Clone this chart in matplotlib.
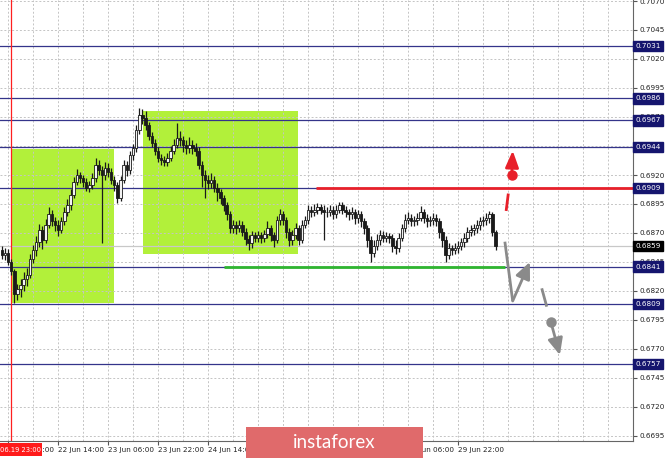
import matplotlib
matplotlib.use('Agg')
import matplotlib.pyplot as plt
from matplotlib.patches import Rectangle
from matplotlib.transforms import blended_transform_factory

# ---------------- data ----------------
first_bar = -2
opens = [
    0.6855, 0.6851, 0.6853, 0.6845, 0.6837, 0.6817, 0.6822, 0.6825, 0.6830, 0.6834,
    0.6848, 0.6855, 0.6862, 0.6873, 0.6864, 0.6877, 0.6886, 0.6880, 0.6877, 0.6873,
    0.6880, 0.6888, 0.6894, 0.6903, 0.6914, 0.6920, 0.6917, 0.6914, 0.6909, 0.6911,
    0.6917, 0.6929, 0.6924, 0.6920, 0.6926, 0.6923, 0.6916, 0.6911, 0.6900, 0.6916,
    0.6929, 0.6924, 0.6937, 0.6943, 0.6959, 0.6972, 0.6969, 0.6963, 0.6954, 0.6948,
    0.6941, 0.6935, 0.6933, 0.6931, 0.6935, 0.6941, 0.6946, 0.6952, 0.6950, 0.6946,
    0.6943, 0.6946, 0.6943, 0.6941, 0.6929, 0.6920, 0.6916, 0.6913, 0.6916, 0.6909,
    0.6905, 0.6900, 0.6894, 0.6886, 0.6874, 0.6877, 0.6874, 0.6877, 0.6871, 0.6865,
    0.6861, 0.6868, 0.6866, 0.6868, 0.6866, 0.6869, 0.6874, 0.6868, 0.6864, 0.6881,
    0.6886, 0.6881, 0.6871, 0.6864, 0.6868, 0.6874, 0.6864, 0.6877, 0.6881, 0.6890,
    0.6888, 0.6890, 0.6892, 0.6890, 0.6888, 0.6888, 0.6890, 0.6886, 0.6890, 0.6894,
    0.6890, 0.6888, 0.6886, 0.6888, 0.6883, 0.6886, 0.6880, 0.6874, 0.6864, 0.6853,
    0.6859, 0.6864, 0.6868, 0.6866, 0.6867, 0.6866, 0.6859, 0.6857, 0.6866, 0.6874,
    0.6881, 0.6883, 0.6880, 0.6881, 0.6883, 0.6888, 0.6883, 0.6880, 0.6881, 0.6883,
    0.6880, 0.6871, 0.6864, 0.6851, 0.6857, 0.6855, 0.6857, 0.6859, 0.6862, 0.6866,
    0.6871, 0.6873, 0.6874, 0.6877, 0.6880, 0.6881, 0.6883, 0.6886, 0.6871,
]
highs = [
    0.6859, 0.6857, 0.6856, 0.6848, 0.6839, 0.6826, 0.6830, 0.6836, 0.6840, 0.6852,
    0.6860, 0.6867, 0.6878, 0.6876, 0.6882, 0.6892, 0.6890, 0.6884, 0.6881, 0.6884,
    0.6892, 0.6899, 0.6908, 0.6918, 0.6925, 0.6923, 0.6920, 0.6917, 0.6915, 0.6922,
    0.6935, 0.6933, 0.6928, 0.6931, 0.6930, 0.6926, 0.6919, 0.6914, 0.6919, 0.6933,
    0.6932, 0.6941, 0.6947, 0.6963, 0.6978, 0.6977, 0.6975, 0.6966, 0.6957, 0.6951,
    0.6944, 0.6938, 0.6936, 0.6939, 0.6945, 0.6951, 0.6965, 0.6958, 0.6954, 0.6950,
    0.6953, 0.6950, 0.6948, 0.6944, 0.6932, 0.6924, 0.6920, 0.6922, 0.6919, 0.6913,
    0.6908, 0.6903, 0.6897, 0.6889, 0.6881, 0.6880, 0.6881, 0.6880, 0.6874, 0.6868,
    0.6872, 0.6871, 0.6872, 0.6871, 0.6873, 0.6880, 0.6877, 0.6871, 0.6885, 0.6891,
    0.6889, 0.6884, 0.6874, 0.6873, 0.6879, 0.6877, 0.6881, 0.6885, 0.6894, 0.6893,
    0.6895, 0.6896, 0.6895, 0.6894, 0.6892, 0.6894, 0.6893, 0.6894, 0.6897, 0.6897,
    0.6893, 0.6891, 0.6892, 0.6891, 0.6890, 0.6889, 0.6883, 0.6877, 0.6867, 0.6864,
    0.6869, 0.6873, 0.6872, 0.6871, 0.6870, 0.6869, 0.6864, 0.6870, 0.6878, 0.6886,
    0.6888, 0.6886, 0.6885, 0.6887, 0.6893, 0.6891, 0.6886, 0.6885, 0.6887, 0.6886,
    0.6883, 0.6874, 0.6867, 0.6861, 0.6860, 0.6861, 0.6863, 0.6866, 0.6870, 0.6875,
    0.6877, 0.6878, 0.6881, 0.6884, 0.6885, 0.6887, 0.6889, 0.6888, 0.6873,
]
lows = [
    0.6848, 0.6847, 0.6842, 0.6834, 0.6810, 0.6812, 0.6815, 0.6820, 0.6824, 0.6831,
    0.6844, 0.6850, 0.6858, 0.6856, 0.6861, 0.6874, 0.6876, 0.6872, 0.6867, 0.6870,
    0.6877, 0.6885, 0.6890, 0.6900, 0.6911, 0.6913, 0.6910, 0.6906, 0.6905, 0.6908,
    0.6914, 0.6920, 0.6861, 0.6916, 0.6918, 0.6912, 0.6906, 0.6896, 0.6898, 0.6913,
    0.6919, 0.6921, 0.6933, 0.6940, 0.6955, 0.6964, 0.6959, 0.6950, 0.6944, 0.6937,
    0.6931, 0.6929, 0.6928, 0.6928, 0.6932, 0.6938, 0.6943, 0.6945, 0.6940, 0.6938,
    0.6939, 0.6938, 0.6936, 0.6925, 0.6910, 0.6900, 0.6908, 0.6909, 0.6905, 0.6898,
    0.6895, 0.6889, 0.6881, 0.6870, 0.6870, 0.6869, 0.6871, 0.6867, 0.6860, 0.6855,
    0.6857, 0.6862, 0.6862, 0.6861, 0.6862, 0.6866, 0.6863, 0.6858, 0.6861, 0.6877,
    0.6877, 0.6866, 0.6859, 0.6860, 0.6865, 0.6860, 0.6861, 0.6874, 0.6878, 0.6884,
    0.6885, 0.6886, 0.6886, 0.6864, 0.6884, 0.6885, 0.6882, 0.6883, 0.6887, 0.6886,
    0.6884, 0.6881, 0.6882, 0.6878, 0.6879, 0.6875, 0.6869, 0.6858, 0.6845, 0.6849,
    0.6855, 0.6860, 0.6862, 0.6862, 0.6861, 0.6854, 0.6852, 0.6854, 0.6863, 0.6871,
    0.6878, 0.6876, 0.6876, 0.6877, 0.6880, 0.6879, 0.6875, 0.6876, 0.6877, 0.6876,
    0.6866, 0.6858, 0.6845, 0.6848, 0.6851, 0.6852, 0.6853, 0.6855, 0.6858, 0.6862,
    0.6867, 0.6868, 0.6870, 0.6873, 0.6876, 0.6877, 0.6879, 0.6867, 0.6855,
]
closes = [
    0.6851, 0.6853, 0.6845, 0.6837, 0.6817, 0.6822, 0.6825, 0.6830, 0.6834, 0.6848,
    0.6855, 0.6862, 0.6873, 0.6864, 0.6877, 0.6886, 0.6880, 0.6877, 0.6873, 0.6880,
    0.6888, 0.6894, 0.6903, 0.6914, 0.6920, 0.6917, 0.6914, 0.6909, 0.6911, 0.6917,
    0.6929, 0.6924, 0.6920, 0.6926, 0.6923, 0.6916, 0.6911, 0.6900, 0.6916, 0.6929,
    0.6924, 0.6937, 0.6943, 0.6959, 0.6972, 0.6969, 0.6963, 0.6954, 0.6948, 0.6941,
    0.6935, 0.6933, 0.6931, 0.6935, 0.6941, 0.6946, 0.6952, 0.6950, 0.6946, 0.6943,
    0.6946, 0.6943, 0.6941, 0.6929, 0.6920, 0.6916, 0.6913, 0.6916, 0.6909, 0.6905,
    0.6900, 0.6894, 0.6886, 0.6874, 0.6877, 0.6874, 0.6877, 0.6871, 0.6865, 0.6861,
    0.6868, 0.6866, 0.6868, 0.6866, 0.6869, 0.6874, 0.6868, 0.6864, 0.6881, 0.6886,
    0.6881, 0.6871, 0.6864, 0.6868, 0.6874, 0.6864, 0.6877, 0.6881, 0.6890, 0.6888,
    0.6890, 0.6892, 0.6890, 0.6888, 0.6888, 0.6890, 0.6886, 0.6890, 0.6894, 0.6890,
    0.6888, 0.6886, 0.6888, 0.6883, 0.6886, 0.6880, 0.6874, 0.6864, 0.6853, 0.6859,
    0.6864, 0.6868, 0.6866, 0.6867, 0.6866, 0.6859, 0.6857, 0.6866, 0.6874, 0.6881,
    0.6883, 0.6880, 0.6881, 0.6883, 0.6888, 0.6883, 0.6880, 0.6881, 0.6883, 0.6880,
    0.6871, 0.6864, 0.6851, 0.6857, 0.6855, 0.6857, 0.6859, 0.6862, 0.6866, 0.6871,
    0.6873, 0.6874, 0.6877, 0.6880, 0.6881, 0.6883, 0.6886, 0.6871, 0.6859,
]

price_ticks = [0.6695, 0.6720, 0.6745, 0.6770, 0.6795, 0.6820, 0.6845, 0.6870,
               0.6895, 0.6920, 0.6945, 0.6970, 0.6995, 0.7020, 0.7045, 0.7070]
level_prices = [0.7031, 0.6986, 0.6967, 0.6944, 0.6909, 0.6841, 0.6809, 0.6757]
current_price = 0.6859

time_label_bars = [0, 16, 32, 48, 64, 80, 96, 112, 128, 144]
time_labels = ['19 Jun 22:00', '22 Jun 14:00', '23 Jun 06:00', '23 Jun 22:00',
               '24 Jun 14:00', '25 Jun 06:00', '25 Jun 22:00', '26 Jun 14:00',
               '29 Jun 06:00', '29 Jun 22:00']
grid_bars = list(range(0, 201, 8))
marker_bar = 1
marker_label = '06.19 23:00'

# zones: (bar_start, bar_end, price_low, price_high)
zone_a = (1.1, 33.9, 0.6810, 0.6942)
zone_b = (43.3, 92.7, 0.6852, 0.6975)
resist_seg = (98.6, 200.0, 0.6909)
support_seg = (69.1, 159.0, 0.6841)

# forecast paths (bar, price)
red_dash = ([159.4, 160.1], [0.6889, 0.6904])
red_dot = (161.2, 0.6920)
red_tip = (161.5, 0.6941)
gray_path = ([159.0, 161.5], [0.68625, 0.68114])
gray_tip1 = (167.0, 0.6845)
gray_dash = ([170.8, 172.4], [0.68223, 0.68065])
gray_dot = (173.7, 0.67935)
gray_tip2 = (176.6, 0.67648)

# ---------------- figure ----------------
W, H = 665, 458
fig = plt.figure(figsize=(W / 100, H / 100), dpi=100, facecolor='white')
ax = fig.add_axes([0, 17 / H, 633 / W, 441 / H])
ax.set_facecolor('white')
ax.set_xlim(-2.56, 200)
ax.set_ylim(0.6695 - 5 / 11600, 0.6695 + 436 / 11600)

# zones
for (b0, b1, p0, p1) in (zone_a, zone_b):
    ax.add_patch(Rectangle((b0, p0), b1 - b0, p1 - p0, facecolor='#b2f03a',
                           edgecolor='none', zorder=1))

# grid
ax.set_xticks(grid_bars, minor=True)
ax.set_xticks(time_label_bars)
ax.set_xticklabels(time_labels)
ax.set_yticks(price_ticks)
ax.set_yticklabels([f'{p:.4f}' for p in price_ticks])
ax.grid(True, which='both', axis='x', color='#c4c4c4', linestyle=(0, (2, 2)), lw=0.7)
ax.grid(True, which='major', axis='y', color='#c4c4c4', linestyle=(0, (2, 2)), lw=0.7)
ax.yaxis.tick_right()
ax.tick_params(axis='y', labelsize=5.2, length=3, pad=2, color='#555555', labelcolor='#222222')
ax.tick_params(axis='x', which='major', labelsize=5.2, length=3, pad=1.5,
               color='#555555', labelcolor='#222222')
ax.tick_params(axis='x', which='minor', length=0)
for lbl in ax.get_xticklabels():
    lbl.set_horizontalalignment('left')
for s in ('top', 'left'):
    ax.spines[s].set_visible(False)
for s in ('right', 'bottom'):
    ax.spines[s].set_color('#666666')
    ax.spines[s].set_linewidth(0.8)

# level lines
for p in level_prices:
    ax.axhline(p, color='#34348a', lw=0.9, zorder=2)
ax.axhline(current_price, color='#c8c8c8', lw=0.9, zorder=2)
ax.axvline(marker_bar, color='#ff2020', lw=0.9, zorder=2)

# candles
bars = list(range(first_bar, first_bar + len(closes)))
ax.vlines(bars, lows, highs, color='#1a1a1a', lw=0.9, zorder=3)
for b, o, c in zip(bars, opens, closes):
    bottom = min(o, c)
    h = max(abs(c - o), 0.00005)
    fc = '#f2f2f2' if c > o else '#1a1a1a'
    ax.bar(b, h, bottom=bottom, width=0.8, color=fc, edgecolor='#1a1a1a',
           linewidth=0.6, zorder=3.5)

# support / resistance segments
ax.plot([resist_seg[0], resist_seg[1]], [resist_seg[2]] * 2, color='#e8202a', lw=2.0,
        zorder=4, solid_capstyle='butt')
ax.plot([support_seg[0], support_seg[1]], [support_seg[2]] * 2, color='#2fb52f', lw=2.0,
        zorder=4, solid_capstyle='butt')

# forecast arrows
red = '#e8202a'
gray = '#8a8a8a'
ax.plot(*red_dash, color=red, lw=2.0, zorder=5, solid_capstyle='butt')
ax.plot(*red_dot, 'o', color=red, ms=6.5, zorder=5)
ax.annotate('', xy=red_tip, xytext=red_dot,
            arrowprops=dict(arrowstyle='-|>,head_length=1.0,head_width=0.4', color=red,
                            lw=2.0, shrinkA=0, shrinkB=0, mutation_scale=10), zorder=5)
ax.plot(*gray_path, color=gray, lw=2.0, zorder=5, solid_capstyle='butt')
ax.annotate('', xy=gray_tip1, xytext=(gray_path[0][1], gray_path[1][1]),
            arrowprops=dict(arrowstyle='-|>,head_length=1.0,head_width=0.45', color=gray,
                            lw=2.0, shrinkA=0, shrinkB=0, mutation_scale=10), zorder=5)
ax.plot(*gray_dash, color=gray, lw=2.0, zorder=5, solid_capstyle='butt')
ax.plot(*gray_dot, 'o', color=gray, ms=6.5, zorder=5)
ax.annotate('', xy=gray_tip2, xytext=gray_dot,
            arrowprops=dict(arrowstyle='-|>,head_length=1.0,head_width=0.45', color=gray,
                            lw=2.0, shrinkA=0, shrinkB=0, mutation_scale=10), zorder=5)

# boxed price labels on the right axis
tr = blended_transform_factory(ax.transAxes, ax.transData)
for p in level_prices:
    ax.text(1.004, p, f'{p:.4f}', transform=tr, ha='left', va='center', fontsize=5.2,
            color='white', clip_on=False, zorder=10,
            bbox=dict(boxstyle='square,pad=0.3', fc='#15156e', ec='#15156e'))
ax.text(1.004, current_price, f'{current_price:.4f}', transform=tr, ha='left', va='center',
        fontsize=5.2, color='white', clip_on=False, zorder=10,
        bbox=dict(boxstyle='square,pad=0.3', fc='#000000', ec='#000000'))

# red time marker box
fig.patches.append(Rectangle((0, (H - 456) / H), 42 / W, 13 / H, transform=fig.transFigure,
                             facecolor='#ff1a1a', edgecolor='none', zorder=20))
fig.text(40.5 / W, (H - 449.5) / H, marker_label, ha='right', va='center', fontsize=4.9,
         color='white', zorder=21)

# banner
fig.patches.append(Rectangle((246 / W, 0), 177 / W, 31 / H, transform=fig.transFigure,
                             facecolor='#e06a6b', edgecolor='none', zorder=20))
fig.text(334 / W, 15.5 / H, 'instaforex', ha='center', va='center', fontsize=13.5,
         color='white', family='Lato', zorder=21)

fig.savefig('out.png', dpi=100, facecolor='white')
